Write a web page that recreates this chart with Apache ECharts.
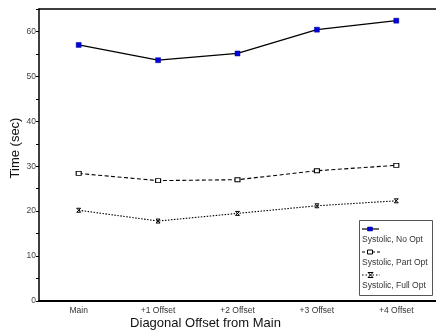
<!DOCTYPE html>
<html>
<head>
<meta charset="utf-8">
<script src="https://cdn.jsdelivr.net/npm/echarts@6/dist/echarts.min.js"></script>
<style>
  html, body { margin: 0; padding: 0; background: #fff; }
  #chart { width: 436px; height: 330px; }
</style>
</head>
<body>
<div id="chart"></div>
<script>
// data
var offsets = ['Main', '+1 Offset', '+2 Offset', '+3 Offset', '+4 Offset'];
var noOpt = [57.0, 53.6, 55.1, 60.4, 62.4];
var partOpt = [28.4, 26.8, 27.0, 29.0, 30.2];
var fullOpt = [20.2, 17.8, 19.5, 21.2, 22.3];
var names = ['Systolic, No Opt', 'Systolic, Part Opt', 'Systolic, Full Opt'];

var font = 'Liberation Sans, Arial, sans-serif';
var hourglass = 'path://M0,0 L10,0 L0,10 L10,10 Z';

var chart = echarts.init(document.getElementById('chart'));

chart.setOption({
  animation: false,
  textStyle: { fontFamily: font },
  grid: { left: 39, right: 0, top: 9, bottom: 29, containLabel: false, outerBoundsMode: 'none' },
  xAxis: [{
    type: 'category',
    data: offsets,
    boundaryGap: true,
    name: 'Diagonal Offset from Main',
    nameLocation: 'middle',
    nameGap: 16,
    nameMoveOverlap: false,
    nameTextStyle: { fontSize: 13, color: '#111', padding: [0, 64, 0, 0] },
    axisLine: { lineStyle: { color: '#000', width: 2 } },
    axisTick: { alignWithLabel: true, length: 3, lineStyle: { color: '#000' } },
    axisLabel: { fontSize: 8.5, color: '#333', margin: 5 },
    splitLine: { show: false }
  }, {
    type: 'category',
    position: 'top',
    data: offsets,
    axisLine: { lineStyle: { color: '#000', width: 1.5 } },
    axisTick: { show: false },
    axisLabel: { show: false }
  }],
  yAxis: {
    type: 'value',
    min: 0,
    max: 65,
    interval: 5,
    name: 'Time (sec)',
    nameLocation: 'middle',
    nameGap: 17,
    nameMoveOverlap: false,
    nameTextStyle: { fontSize: 13, color: '#111', padding: [0, 0, 0, 14] },
    axisLine: { show: true, lineStyle: { color: '#000', width: 1.5 } },
    axisTick: { show: true, length: 3, lineStyle: { color: '#000' } },
    axisLabel: {
      fontSize: 8.5, color: '#444', margin: 3,
      formatter: function (v) { return v % 10 === 0 && v <= 60 ? String(v) : ''; }
    },
    splitLine: { show: false }
  },
  graphic: [
    { type: 'rect', shape: { x: 359.5, y: 220.5, width: 73, height: 75 },
      style: { fill: '#fff', stroke: '#555', lineWidth: 1 }, z: 100 },
    { type: 'line', shape: { x1: 362, y1: 229, x2: 379, y2: 229 },
      style: { stroke: '#000', lineWidth: 1.2 }, z: 101 },
    { type: 'rect', shape: { x: 367.5, y: 227, width: 5, height: 4 },
      style: { fill: '#0000e0', stroke: '#000080', lineWidth: 0.5 }, z: 102 },
    { type: 'text', x: 362, y: 235, style: { text: names[0], font: '8.5px ' + font, fill: '#333' }, z: 101 },
    { type: 'line', shape: { x1: 362, y1: 252, x2: 380, y2: 252 },
      style: { stroke: '#000', lineWidth: 1, lineDash: [3, 2] }, z: 101 },
    { type: 'rect', shape: { x: 367.5, y: 250, width: 5, height: 4 },
      style: { fill: '#fff', stroke: '#000', lineWidth: 1 }, z: 102 },
    { type: 'text', x: 362, y: 258, style: { text: names[1], font: '8.5px ' + font, fill: '#333' }, z: 101 },
    { type: 'line', shape: { x1: 362, y1: 275, x2: 380, y2: 275 },
      style: { stroke: '#000', lineWidth: 1, lineDash: [1.5, 2] }, z: 101 },
    { type: 'polygon', shape: { points: [[368, 272.5], [373, 272.5], [368, 277.5], [373, 277.5]] },
      style: { fill: '#fff', stroke: '#000', lineWidth: 1 }, z: 102 },
    { type: 'text', x: 362, y: 281, style: { text: names[2], font: '8.5px ' + font, fill: '#333' }, z: 101 }
  ],
  series: [{
    name: names[0],
    type: 'line',
    data: noOpt,
    symbol: 'rect',
    symbolSize: [5, 5],
    itemStyle: { color: '#0000e0', borderColor: '#000080', borderWidth: 0.5 },
    lineStyle: { color: '#000', width: 1.3 },
    z: 3
  }, {
    name: names[1],
    type: 'line',
    data: partOpt,
    symbol: 'rect',
    symbolSize: [5, 4],
    itemStyle: { color: '#fff', borderColor: '#000', borderWidth: 1 },
    lineStyle: { color: '#000', width: 1.1, type: [4, 2.5] },
    z: 3
  }, {
    name: names[2],
    type: 'line',
    data: fullOpt,
    symbol: hourglass,
    symbolSize: [4, 4],
    itemStyle: { color: '#fff', borderColor: '#000', borderWidth: 1 },
    lineStyle: { color: '#000', width: 1.1, type: [1.5, 1.5] },
    z: 3
  }]
});
</script>
</body>
</html>
